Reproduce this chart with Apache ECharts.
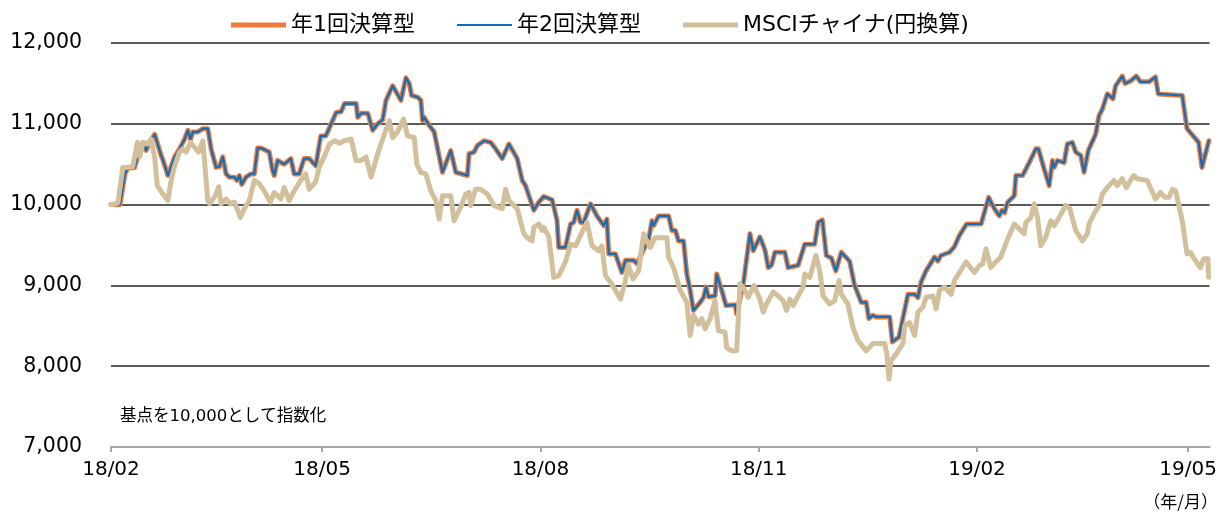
<!DOCTYPE html>
<html>
<head>
<meta charset="utf-8">
<script src="https://cdn.jsdelivr.net/npm/echarts@6/dist/echarts.min.js"></script>
<style>
html,body{margin:0;padding:0;background:#fff;}
#chart{width:1220px;height:514px;}
</style>
</head>
<body>
<div id="chart"></div>
<script>
// ---- data ----
const startDate = '2018-02-01';          // index base = 10,000
const endDay = 463;                      // axis end, days after start
const seriesNames = ['年1回決算型', '年2回決算型', 'MSCIチャイナ(円換算)'];
const xTickDates = ['2018-02-01', '2018-05-01', '2018-08-01', '2018-11-01', '2019-02-01', '2019-05-01'];
const xTickLabels = ['18/02', '18/05', '18/08', '18/11', '19/02', '19/05'];
const yTickValues = [7000, 8000, 9000, 10000, 11000, 12000];
const yTickLabels = ['7,000', '8,000', '9,000', '10,000', '11,000', '12,000'];

// fund (both share classes plot on top of each other), day offsets from startDate
const fundDays = [0,3.8,5.9,7.1,10.0,12.1,13.5,14.8,16.3,18.4,21.1,21.9,24.0,26.8,28.9,31.0,32.4,33.5,34.5,36.6,38.7,40.8,42.2,44.3,45.7,47.1,48.5,49.9,52.0,53.1,54.1,55.1,56.9,59.0,60.4,61.8,63.2,66.7,68.1,68.8,70.2,73.0,75.8,77.2,79.3,81.4,83.5,86.3,88.4,90.5,91.9,
92.8,94.9,97.0,98.4,103.3,104.0,105.4,108.2,110.3,112.4,114.5,115.9,118.7,122.2,124.3,125.7,126.7,129.2,130.6,131.3,132.0,134.1,136.2,139.7,143.2,145.3,150.2,150.9,153.0,154.4,157.2,160.0,162.1,164.9,167.7,171.2,173.3,174.7,178.2,180.3,182.4,
185.9,188.0,188.7,191.5,193.7,195.0,196.4,197.9,199.2,202.1,204.8,207.7,209.0,209.8,212.6,215.3,216.8,220.3,221.7,226.6,228.0,228.7,230.8,235.0,236.4,237.9,239.2,241.3,242.7,244.1,245.5,248.3,249.7,250.8,251.8,254.6,255.3,257.4,259.2,263.0,263.7,266.5,269.3,270.7,273.5,275.7,
277.0,278.4,279.8,284.0,285.4,289.6,292.4,296.6,298.0,299.8,301.5,303.6,305.5,307.8,311.3,313.4,316.2,318.3,319.4,321.1,322.5,328.2,329.3,332.1,333.5,335.9,338.7,340.1,341.4,343.5,347.1,348.5,349.8,353.4,355.5,357.6,360.6,366.7,
367.4,369.9,372.3,374.4,375.5,376.6,377.9,380.7,381.4,384.2,387.0,389.8,390.9,392.9,395.4,396.8,397.5,398.9,401.7,403.1,405.2,406.6,408.7,410.1,411.9,415.0,416.4,417.8,419.9,422.3,423.4,426.2,427.4,429.7,432.1,433.9,437.5,440.2,441.4,451.5,453.5,458.4,459.8,462.7];

const fund1Values = [10000,10000,10380,10450,10460,10690,10770,10670,10770,10870,10610,10550,10360,10590,10690,10810,10920,10810,10900,10900,10940,10940,10690,10460,10470,10590,10380,10340,10340,10300,10360,10250,10340,10380,10380,10700,10700,10650,10420,10360,10545,10500,10570,10380,10380,10570,10570,10480,10850,10850,10940,
11000,11140,11150,11250,11250,11080,11130,11130,10920,11000,11050,11290,11470,11290,11570,11500,11350,11330,11290,11040,11080,10980,10900,10400,10670,10400,10360,10630,10650,10730,10790,10770,10690,10570,10750,10570,10300,10235,9930,10030,10100,
10060,9800,9470,9470,9760,9780,9930,9780,9780,10010,9860,9740,9820,9390,9390,9160,9310,9310,9270,9575,9800,9740,9860,9860,9680,9680,9550,9550,9140,8940,8690,8790,8850,8980,8860,8870,9140,8940,8750,8760,8650,9020,9640,9430,9600,9430,
9220,9250,9410,9410,9220,9250,9510,9510,9780,9810,9370,9340,9180,9410,9300,9000,8790,8790,8590,8630,8610,8610,8300,8360,8560,8890,8890,8850,9040,9180,9350,9300,9370,9410,9480,9620,9760,9760,
9770,10090,9950,9860,9930,9900,10030,10110,10360,10360,10520,10690,10690,10480,10235,10545,10460,10545,10520,10750,10770,10650,10610,10400,10670,10870,11100,11180,11370,11310,11470,11590,11500,11530,11590,11520,11520,11580,11370,11350,10940,10770,10460,10790];
const fund2Values = fund1Values; // the two share classes coincide to within a pixel in the picture

const msciDays = [0,2.9,5.0,6.4,9.2,11.1,12.1,13.5,15.6,16.9,18.4,19.5,21.9,24.0,25.1,26.8,28.9,30.3,31.7,33.5,35.2,36.9,38.7,40.8,41.5,43.6,45.4,46.4,48.5,50.3,52.0,53.4,54.5,56.2,58.3,60.4,62.5,64.6,67.1,68.8,71.6,73.0,75.1,77.2,80.0,82.1,83.5,86.3,87.7,89.8,
92.1,94.2,96.3,98.4,101.2,103.3,105.4,107.5,109.6,112.4,115.2,117.3,118.7,120.8,123.3,125.0,127.8,128.9,130.6,132.7,134.8,136.9,138.3,139.7,143.2,144.6,147.4,149.5,150.9,151.6,153.7,155.8,158.6,161.4,164.9,166.3,167.7,171.2,174.0,176.1,177.5,178.2,180.3,181.7,182.4,
184.5,186.6,188.7,191.5,193.7,195.8,197.9,200.6,202.7,205.5,206.9,208.4,210.5,212.6,214.7,216.8,218.1,220.0,222.4,224.5,225.8,227.3,229.4,234.3,235.0,237.1,239.9,242.7,244.1,245.5,247.6,249.0,250.4,252.5,254.6,256.0,258.8,259.5,261.6,263.7,265.1,267.2,268.6,271.0,273.5,274.9,
276.3,279.1,281.2,283.3,284.7,286.1,287.5,289.6,291.7,292.4,294.5,297.1,298.7,300.1,302.9,305.0,306.9,307.8,310.6,312.7,314.8,318.3,321.1,326.1,327.0,327.9,328.8,330.9,333.8,334.5,336.6,338.7,340.1,342.2,343.5,346.4,347.8,349.2,351.3,354.1,355.5,357.6,360.4,363.9,366.0,
367.4,368.8,370.8,372.9,375.0,377.9,380.7,382.8,384.9,385.6,387.7,389.1,390.5,391.9,394.0,396.1,397.5,399.6,402.4,404.1,406.6,409.4,411.5,412.2,414.4,416.7,417.8,419.9,422.7,424.1,426.2,427.9,429.7,431.1,432.5,436.7,440.2,442.3,444.2,445.9,447.3,448.7,451.5,453.5,454.9,457.0,459.1,460.5,462.3,462.6];

const msciValues = [10000,10020,10460,10460,10470,10770,10590,10770,10750,10810,10590,10235,10130,10050,10260,10480,10650,10690,10650,10770,10710,10650,10790,10050,10010,10090,10220,10010,10070,10010,10030,9930,9840,9950,10050,10300,10260,10170,10030,10150,10070,10210,10050,10170,10300,10380,10190,10280,10460,10590,
10750,10790,10760,10790,10810,10545,10545,10590,10340,10630,10870,11040,10830,10900,11060,10850,10830,10500,10400,10380,10170,10050,9820,10110,10110,9800,9970,10130,10150,9990,10190,10190,10130,9990,9950,10190,10050,9950,9640,9575,9550,9720,9760,9680,9720,
9600,9100,9120,9290,9510,9490,9620,9780,9490,9430,9490,9120,9040,8940,8830,9060,9245,9080,9180,9640,9550,9470,9590,9590,9350,9220,8940,8790,8380,8630,8520,8590,8460,8590,8810,8440,8420,8230,8190,8190,9020,8940,8850,9000,8830,8670,
8770,8920,8870,8810,8690,8830,8750,8870,8980,9140,9100,9370,9180,8870,8770,8810,9060,8890,8770,8480,8320,8190,8280,8280,8150,7840,8070,8150,8280,8500,8540,8380,8670,8730,8850,8870,8710,8940,8980,8890,9060,9160,9290,9160,9245,
9270,9450,9220,9290,9350,9575,9760,9700,9640,9780,9840,10010,9840,9490,9600,9800,9740,9840,9990,9950,9680,9550,9640,9760,9890,10000,10130,10210,10300,10235,10320,10210,10300,10360,10320,10300,10070,10150,10090,10090,10190,10170,9800,9390,9410,9310,9220,9330,9330,9100];

// ---- helpers ----
const DAY = 86400000;
function ts(s) { const p = s.split('-').map(Number); return Date.UTC(p[0], p[1] - 1, p[2]); }
const base = ts(startDate);
function pairs(days, vals) { return days.map((d, i) => [d, vals[i]]); }
const xTickDays = xTickDates.map(s => Math.round((ts(s) - base) / DAY));

const COLORS = ['#EF7A3E', '#0A70BE', '#D2C09D'];
const FONT = '"DejaVu Sans", "Noto Sans CJK JP", sans-serif';

const chart = echarts.init(document.getElementById('chart'), null, {renderer: 'canvas'});
chart.setOption({
  animation: false,
  backgroundColor: '#fff',
  textStyle: {fontFamily: FONT, color: '#000'},
  grid: {left: 111, right: 8, top: 43, bottom: 67, containLabel: false},
  legend: {
    left: 226, top: 9,
    itemWidth: 55, itemHeight: 5, itemGap: 42, itemTextGap: 3,
    symbolKeepAspect: true,
    textStyle: {fontSize: 22, color: '#000', fontFamily: FONT},
    data: [
      {name: seriesNames[0], icon: 'path://M0,0L55,0L55,5L0,5Z', itemStyle: {color: COLORS[0]}},
      {name: seriesNames[1], icon: 'path://M0,0L55,0L55,2L0,2Z', itemStyle: {color: COLORS[1]}},
      {name: seriesNames[2], icon: 'path://M0,0L55,0L55,5L0,5Z', itemStyle: {color: COLORS[2]}}
    ]
  },
  xAxis: {
    type: 'value',
    min: 0, max: endDay,
    axisLine: {show: true, lineStyle: {color: '#A6A6A6', width: 2}},
    axisTick: {show: true, customValues: xTickDays, length: 5, lineStyle: {color: '#A6A6A6', width: 2}},
    axisLabel: {
      customValues: xTickDays, fontSize: 20, color: '#000', margin: 13, fontFamily: FONT,
      formatter: function (v) { const i = xTickDays.indexOf(Math.round(v)); return i >= 0 ? xTickLabels[i] : ''; }
    },
    splitLine: {show: false}
  },
  yAxis: {
    type: 'value', min: 7000, max: 12000, interval: 1000,
    axisLine: {show: false}, axisTick: {show: false},
    axisLabel: {
      fontSize: 20.5, color: '#000', margin: 29, fontFamily: FONT,
      formatter: function (v) { const i = yTickValues.indexOf(v); return i >= 0 ? yTickLabels[i] : ''; }
    },
    splitLine: {show: true, showMinLine: false, lineStyle: {color: '#5A5A5A', width: 2}}
  },
  graphic: [
    {type: 'text', left: 120, top: 408, style: {text: '基点を10,000として指数化', fill: '#000', font: '16.5px ' + FONT}},
    {type: 'text', right: 2, top: 493, style: {text: '（年/月）', fill: '#000', font: '17px "Noto Sans CJK JP", sans-serif'}}
  ],
  series: [
    {name: seriesNames[0], type: 'line', data: pairs(fundDays, fund1Values), symbol: 'none', smooth: false,
     lineStyle: {color: COLORS[0], width: 5, join: 'round', cap: 'round'}, itemStyle: {color: COLORS[0]}, z: 2},
    {name: seriesNames[1], type: 'line', data: pairs(fundDays, fund2Values), symbol: 'none', smooth: false,
     lineStyle: {color: COLORS[1], width: 2.2, join: 'round', cap: 'round'}, itemStyle: {color: COLORS[1]}, z: 3},
    {name: seriesNames[2], type: 'line', data: pairs(msciDays, msciValues), symbol: 'none', smooth: false,
     lineStyle: {color: COLORS[2], width: 5, join: 'round', cap: 'round'}, itemStyle: {color: COLORS[2]}, z: 4}
  ]
});
</script>
</body>
</html>
